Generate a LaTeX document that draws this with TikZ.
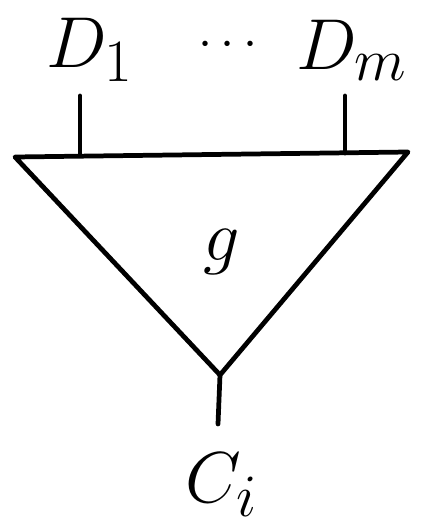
\documentclass[tikz,border=0pt]{standalone}
\usepackage{amsmath}
\usetikzlibrary{calc}

\begin{document}
\begin{tikzpicture}[
  x=0.02cm, y=-0.02cm,
  wire/.style={line width=2.7pt, line cap=round, line join=round},
  lbl/.style={inner sep=0pt, font=\Huge, scale=1.65, transform shape}
]
\useasboundingbox (0,0) rectangle (425,527);
% Gate g (inverted triangle)
\coordinate (tl) at (15,157);
\coordinate (tr) at (408,152);
\coordinate (ap) at (220,375);
\draw[wire] (tl) -- (tr) -- (ap) -- cycle;
\node[lbl] (g) at (222,252) {$g$};
% Inputs D_1 ... D_m
\node[lbl] (d1) at (90,50) {$D_1$};
\node[lbl, scale=0.7] (dots) at (232,45) {$\cdots$};
\node[lbl] (dm) at (352,50) {$D_m$};
\coordinate (w1) at (80,155);
\coordinate (wm) at (345,153);
\draw[wire] (w1) -- (80,96);
\draw[wire] (wm) -- (345,96);
% Output C_i
\node[lbl] (ci) at (222,485) {$C_i$};
\draw[wire] (ap) -- (218,424);
\end{tikzpicture}
\end{document}
